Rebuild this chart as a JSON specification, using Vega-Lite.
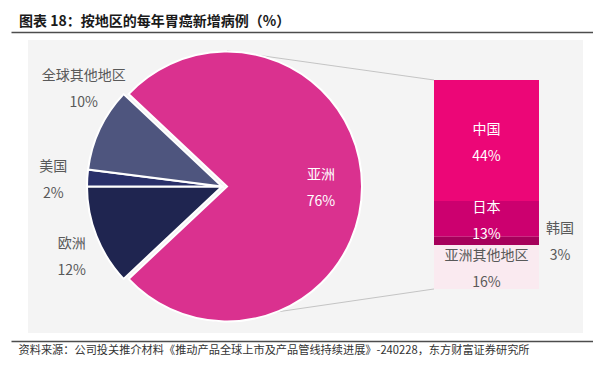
{
  "$schema": "https://vega.github.io/schema/vega-lite/v6.json",
  "width": 555,
  "height": 293,
  "autosize": {"type": "none"},
  "padding": {"left": 28, "top": 40, "right": 10, "bottom": 34},
  "background": "#FFFFFF",
  "config": {
    "view": {"fill": "#F4F4F4", "stroke": null},
    "font": "Noto Sans CJK SC",
    "text": {"font": "Noto Sans CJK SC", "fontSize": 14, "lineHeight": 27}
  },
  "title": {
    "text": "图表 18：按地区的每年胃癌新增病例（%）",
    "anchor": "start",
    "frame": "group",
    "dx": -9,
    "offset": 3,
    "fontSize": 14,
    "fontWeight": "bold",
    "font": "Noto Sans CJK SC",
    "color": "#1A1A1A"
  },
  "datasets": {
    "pie": [
      {"grp": "全球", "region": "亚洲", "pct": 76, "ord": 1},
      {"grp": "全球", "region": "欧洲", "pct": 12, "ord": 2},
      {"grp": "全球", "region": "美国", "pct": 2, "ord": 3},
      {"grp": "全球", "region": "全球其他地区", "pct": 10, "ord": 4}
    ],
    "bar": [
      {"grp": "亚洲", "region": "中国", "pct": 44, "ord": 4},
      {"grp": "亚洲", "region": "日本", "pct": 13, "ord": 3},
      {"grp": "亚洲", "region": "韩国", "pct": 3, "ord": 2},
      {"grp": "亚洲", "region": "亚洲其他地区", "pct": 16, "ord": 1}
    ]
  },
  "layer": [
    {
      "data": {"values": [{"from": "全球", "to": "亚洲", "pct": 76}]},
      "mark": {"type": "rule", "color": "#C4C4C4", "strokeWidth": 1},
      "encoding": {
        "x": {
          "field": "to", "type": "nominal", "bandPosition": 0,
          "scale": {"type": "band", "domain": ["全球", "亚洲"], "range": [-17, 565], "paddingInner": 0.59538, "paddingOuter": 0.41908, "align": 0.75172},
          "axis": {"orient": "top", "offset": 8, "domain": true, "domainColor": "#4D4D4D", "domainWidth": 1.5, "labels": false, "ticks": false, "grid": false, "title": null}
        },
        "x2": {"field": "from", "bandPosition": 0.5},
        "y": {"field": "pct", "type": "quantitative", "scale": {"domain": [-16, 90.545], "nice": false, "zero": false}, "axis": null},
        "y2": {"datum": 86.6}
      }
    },
    {
      "data": {"values": [{"from": "全球", "to": "亚洲", "pct": 0}]},
      "mark": {"type": "rule", "color": "#C4C4C4", "strokeWidth": 1},
      "encoding": {
        "x": {"field": "to", "type": "nominal", "bandPosition": 0, "axis": null},
        "x2": {"field": "from", "bandPosition": 0.5},
        "y": {"field": "pct", "type": "quantitative", "axis": null},
        "y2": {"datum": -11}
      }
    },
    {
      "data": {"name": "pie"},
      "mark": {"type": "arc", "outerRadius": 135, "stroke": "#FFFFFF", "strokeWidth": 2},
      "encoding": {
        "x": {"field": "grp", "type": "nominal", "bandPosition": 0.5, "axis": null},
        "theta": {"field": "pct", "type": "quantitative", "stack": true, "scale": {"range": [-0.81681, 5.46637]}},
        "order": {"field": "ord", "type": "quantitative"},
        "color": {
          "field": "region", "type": "nominal", "legend": null,
          "scale": {
            "domain": ["亚洲", "欧洲", "美国", "全球其他地区", "中国", "日本", "韩国", "亚洲其他地区"],
            "range": ["#DA318F", "#1F2550", "#29306A", "#4E557E", "#EC0677", "#CC006F", "#A6005B", "#FAEAF0"]
          }
        },
        "opacity": {"condition": {"test": "datum.region === '亚洲'", "value": 1}, "value": 0}
      }
    },
    {
      "data": {"name": "pie"},
      "mark": {"type": "arc", "outerRadius": 135, "stroke": "#FFFFFF", "strokeWidth": 2},
      "encoding": {
        "x": {"field": "grp", "type": "nominal", "bandPosition": 0.4524, "axis": null},
        "theta": {"field": "pct", "type": "quantitative", "stack": true},
        "order": {"field": "ord", "type": "quantitative"},
        "color": {"field": "region", "type": "nominal", "legend": null},
        "opacity": {"condition": {"test": "datum.region === '亚洲'", "value": 0}, "value": 1}
      }
    },
    {
      "data": {"name": "pie"},
      "transform": [{"calculate": "[datum.region, datum.pct + '%']", "as": "lab"}],
      "mark": {"type": "text", "radius": 94, "dy": -12, "color": "#FFFFFF", "align": "center", "baseline": "middle"},
      "encoding": {
        "x": {"field": "grp", "type": "nominal", "bandPosition": 0.5, "axis": null},
        "theta": {"field": "pct", "type": "quantitative", "stack": true},
        "order": {"field": "ord", "type": "quantitative"},
        "text": {"field": "lab", "type": "nominal"},
        "opacity": {"condition": {"test": "datum.region === '亚洲'", "value": 1}, "value": 0}
      }
    },
    {
      "data": {"name": "pie"},
      "transform": [{"calculate": "[datum.region, datum.pct + '%']", "as": "lab"}],
      "mark": {"type": "text", "radius": 166, "dx": 4, "dy": -4, "color": "#595959", "align": "center", "baseline": "middle"},
      "encoding": {
        "x": {"field": "grp", "type": "nominal", "bandPosition": 0.4524, "axis": null},
        "theta": {"field": "pct", "type": "quantitative", "stack": true},
        "order": {"field": "ord", "type": "quantitative"},
        "text": {"field": "lab", "type": "nominal"},
        "opacity": {"condition": {"test": "datum.region === '欧洲'", "value": 1}, "value": 0}
      }
    },
    {
      "data": {"name": "pie"},
      "transform": [{"calculate": "[datum.region, datum.pct + '%']", "as": "lab"}],
      "mark": {"type": "text", "radius": 166, "dx": -3, "dy": -9, "color": "#595959", "align": "center", "baseline": "middle"},
      "encoding": {
        "x": {"field": "grp", "type": "nominal", "bandPosition": 0.4524, "axis": null},
        "theta": {"field": "pct", "type": "quantitative", "stack": true},
        "order": {"field": "ord", "type": "quantitative"},
        "text": {"field": "lab", "type": "nominal"},
        "opacity": {"condition": {"test": "datum.region === '美国'", "value": 1}, "value": 0}
      }
    },
    {
      "data": {"name": "pie"},
      "transform": [{"calculate": "[datum.region, datum.pct + '%']", "as": "lab"}],
      "mark": {"type": "text", "radius": 166, "dx": 12, "dy": -40, "color": "#595959", "align": "center", "baseline": "middle"},
      "encoding": {
        "x": {"field": "grp", "type": "nominal", "bandPosition": 0.4524, "axis": null},
        "theta": {"field": "pct", "type": "quantitative", "stack": true},
        "order": {"field": "ord", "type": "quantitative"},
        "text": {"field": "lab", "type": "nominal"},
        "opacity": {"condition": {"test": "datum.region === '全球其他地区'", "value": 1}, "value": 0}
      }
    },
    {
      "data": {"name": "bar"},
      "mark": {"type": "bar"},
      "encoding": {
        "x": {
          "field": "grp", "type": "nominal",
          "axis": {
            "orient": "bottom", "offset": 8, "domain": true, "domainColor": "#4D4D4D", "domainWidth": 1.5,
            "labels": false, "ticks": false, "grid": false,
            "title": "资料来源：公司投关推介材料《推动产品全球上市及产品管线持续进展》-240228，东方财富证券研究所",
            "titleAnchor": "start", "titleAlign": "left", "titleX": -10, "titleY": 9, "titleBaseline": "middle",
            "titleFontSize": 11.2, "titleFontWeight": "normal", "titleColor": "#333333", "titleFont": "Noto Sans CJK SC"
          }
        },
        "y": {"field": "pct", "type": "quantitative", "stack": "zero", "axis": null},
        "order": {"field": "ord", "type": "quantitative"},
        "color": {"field": "region", "type": "nominal", "legend": null}
      }
    },
    {
      "data": {"name": "bar"},
      "transform": [
        {"stack": "pct", "groupby": ["grp"], "sort": [{"field": "ord"}], "as": ["y0", "y1"]},
        {"calculate": "(datum.y0 + datum.y1) / 2", "as": "ymid"},
        {"calculate": "[datum.region, datum.pct + '%']", "as": "lab"},
        {"filter": "datum.region !== '韩国'"}
      ],
      "mark": {"type": "text", "align": "center", "baseline": "middle", "dy": -10.5},
      "encoding": {
        "x": {"field": "grp", "type": "nominal", "axis": null},
        "y": {"field": "ymid", "type": "quantitative", "axis": null},
        "text": {"field": "lab", "type": "nominal"},
        "color": {"condition": {"test": "datum.region === '亚洲其他地区'", "value": "#595959"}, "value": "#FFFFFF"}
      }
    },
    {
      "data": {"name": "bar"},
      "transform": [
        {"stack": "pct", "groupby": ["grp"], "sort": [{"field": "ord"}], "as": ["y0", "y1"]},
        {"calculate": "(datum.y0 + datum.y1) / 2", "as": "ymid"},
        {"calculate": "[datum.region, datum.pct + '%']", "as": "lab"},
        {"filter": "datum.region === '韩国'"}
      ],
      "mark": {"type": "text", "align": "center", "baseline": "middle", "dx": 73.5, "dy": -12, "color": "#595959"},
      "encoding": {
        "x": {"field": "grp", "type": "nominal", "axis": null},
        "y": {"field": "ymid", "type": "quantitative", "axis": null},
        "text": {"field": "lab", "type": "nominal"}
      }
    }
  ],
  "resolve": {"axis": {"x": "independent"}}
}
